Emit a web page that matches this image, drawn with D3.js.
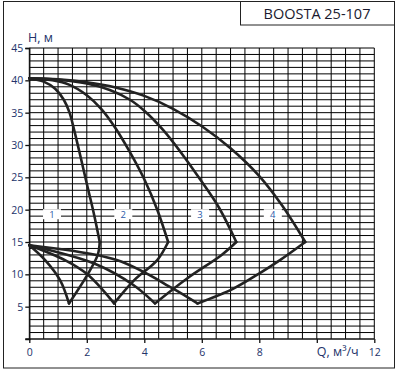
<!DOCTYPE html>
<html>
<head>
<meta charset="utf-8">
<script src="https://cdn.jsdelivr.net/npm/d3@7"></script>
<style>
  body { margin: 0; background: #fff; }
  svg { display: block; font-family: "Open Sans", "Noto Sans", sans-serif; }
</style>
</head>
<body>
<svg id="chart" width="405" height="375"></svg>
<script>
// pump curves, Q (m3/h) vs H (m), one per speed
const headCurves = [
    [[0, 40.3], [0.5, 39.8], [0.9, 38.7], [1.2, 37.0], [1.4, 35.0], [1.55, 32.5], [1.75, 28.8], [2.0, 24.0], [2.25, 19.3], [2.45, 15]],
    [[0, 40.3], [0.8, 40.0], [1.4, 39.3], [2.0, 37.7], [2.5, 35.6], [3.0, 32.6], [3.5, 28.9], [4.0, 24.7], [4.45, 20.0], [4.83, 15]],
    [[0, 40.3], [1.0, 40.1], [2.0, 39.5], [2.8, 38.5], [3.5, 37.0], [4.0, 35.3], [4.66, 32.3], [5.3, 28.7], [5.94, 24.7], [6.6, 20.3], [7.2, 15]],
    [[0, 40.3], [1.0, 40.15], [2.0, 39.7], [3.0, 38.9], [4.0, 37.6], [5.0, 35.6], [6.0, 32.9], [7.0, 29.5], [8.0, 25.2], [8.8, 20.6], [9.6, 15]]
];
// return from the end point down to the minimum
const dropLines = [
    [[2.45, 15], [2.38, 13], [2.03, 10], [1.38, 5.5]],
    [[4.83, 15], [4.45, 12.2], [3.65, 9.1], [2.95, 5.5]],
    [[7.2, 15], [6.69, 13], [5.5, 9.4], [4.37, 5.5]],
    [[9.6, 15], [8.72, 12.2], [8.02, 10.2], [7.1, 7.8], [5.85, 5.5]]
];
// lower curves from the minimum back to the axis
const lowCurves = [
    [[1.38, 5.5], [1.07, 9.1], [0.55, 12.2], [0, 14.5]],
    [[2.95, 5.5], [2.02, 10], [1.24, 12.2], [0, 14.5]],
    [[4.37, 5.5], [3.62, 8.35], [2.3, 11.6], [0, 14.5]],
    [[5.85, 5.5], [5.0, 7.8], [3.04, 12.2], [0, 14.5]]
];
const curveNames = ['1', '2', '3', '4'];
const labelQ = [0.79, 3.27, 5.94, 8.47];
const labelH = 19.3;

const xTicks = [0, 2, 4, 6, 8, 10, 12];
const xTickLabels = ['0', '2', '4', '6', '8', '', '12'];
const yTicks = [5, 10, 15, 20, 25, 30, 35, 40, 45];

const svg = d3.select('#chart');
const x = d3.scaleLinear().domain([0, 12]).range([29.3, 374.3]);
const y = d3.scaleLinear().domain([0, 45]).range([339, 48]);
const navy = '#23336a';

// outer frame and title box
svg.append('rect').attr('x', 3.5).attr('y', 1.5).attr('width', 391).attr('height', 366.5)
    .attr('fill', 'none').attr('stroke', '#222').attr('stroke-width', 1);
svg.append('rect').attr('x', 240.5).attr('y', 1.5).attr('width', 154).attr('height', 23.5)
    .attr('fill', 'none').attr('stroke', '#222').attr('stroke-width', 1);
svg.append('text').attr('x', 317).attr('y', 18.5).attr('text-anchor', 'middle')
    .attr('font-size', 14.5).attr('fill', '#1a1a2e').text('BOOSTA 25-107');

// grid (thin lines at fractional positions, so some come out grey like the scan)
const grid = svg.append('g');
grid.selectAll('.vl').data(d3.range(0, 12.01, 0.5)).enter().append('line')
    .attr('x1', d => x(d)).attr('x2', d => x(d)).attr('y1', y(45)).attr('y2', y(0))
    .attr('stroke', '#000').attr('stroke-width', 1);
grid.selectAll('.hl').data(d3.range(1, 45.01, 1)).enter().append('line')
    .attr('x1', x(0)).attr('x2', x(12)).attr('y1', d => y(d)).attr('y2', d => y(d))
    .attr('stroke', '#000').attr('stroke-width', 1);

// axes
const xAxis = svg.append('g').attr('transform', `translate(0,${y(0)})`)
    .call(d3.axisBottom(x).tickValues(xTicks).tickFormat((d, i) => xTickLabels[i]).tickSize(4).tickPadding(6));
const yAxis = svg.append('g').attr('transform', `translate(${x(0)},0)`)
    .call(d3.axisLeft(y).tickValues(yTicks).tickSize(4).tickPadding(2));
[xAxis, yAxis].forEach(a => {
    a.select('.domain').attr('stroke', '#111').attr('stroke-width', 1.3);
    a.selectAll('.tick line').attr('stroke', '#111').attr('stroke-width', 1.3);
    a.selectAll('text').attr('fill', navy).attr('font-size', 10.5)
        .attr('font-family', '"Open Sans", "Noto Sans", sans-serif');
});
xAxis.select('.domain').attr('d', `M${x(0) - 4},0H${x(12)}`);

svg.append('text').attr('x', 28).attr('y', 42).attr('font-size', 12.5).attr('fill', navy).text('H, м');
svg.append('text').attr('x', x(10)).attr('y', 356).attr('font-size', 12.5).attr('fill', navy).text('Q, м³/ч');

// pump curves
const line = d3.line().x(d => x(d[0])).y(d => y(d[1])).curve(d3.curveCatmullRom.alpha(0.5));
const curvesG = svg.append('g').attr('fill', 'none').attr('stroke', '#222')
    .attr('stroke-width', 2.6).attr('stroke-linejoin', 'miter').attr('stroke-linecap', 'round');
[headCurves, dropLines, lowCurves].forEach(set => {
    curvesG.selectAll(null).data(set).enter().append('path').attr('d', line);
});

// speed labels
const labels = svg.append('g');
labels.selectAll('rect').data(labelQ).enter().append('rect')
    .attr('x', d => x(d) - 9).attr('y', y(labelH) - 5).attr('width', 18).attr('height', 10).attr('fill', '#fff');
labels.selectAll('text').data(labelQ).enter().append('text')
    .attr('x', d => x(d)).attr('y', y(labelH) + 3.5).attr('text-anchor', 'middle')
    .attr('font-size', 9.5).attr('fill', '#2b5aa8').text((d, i) => curveNames[i]);
</script>
</body>
</html>
